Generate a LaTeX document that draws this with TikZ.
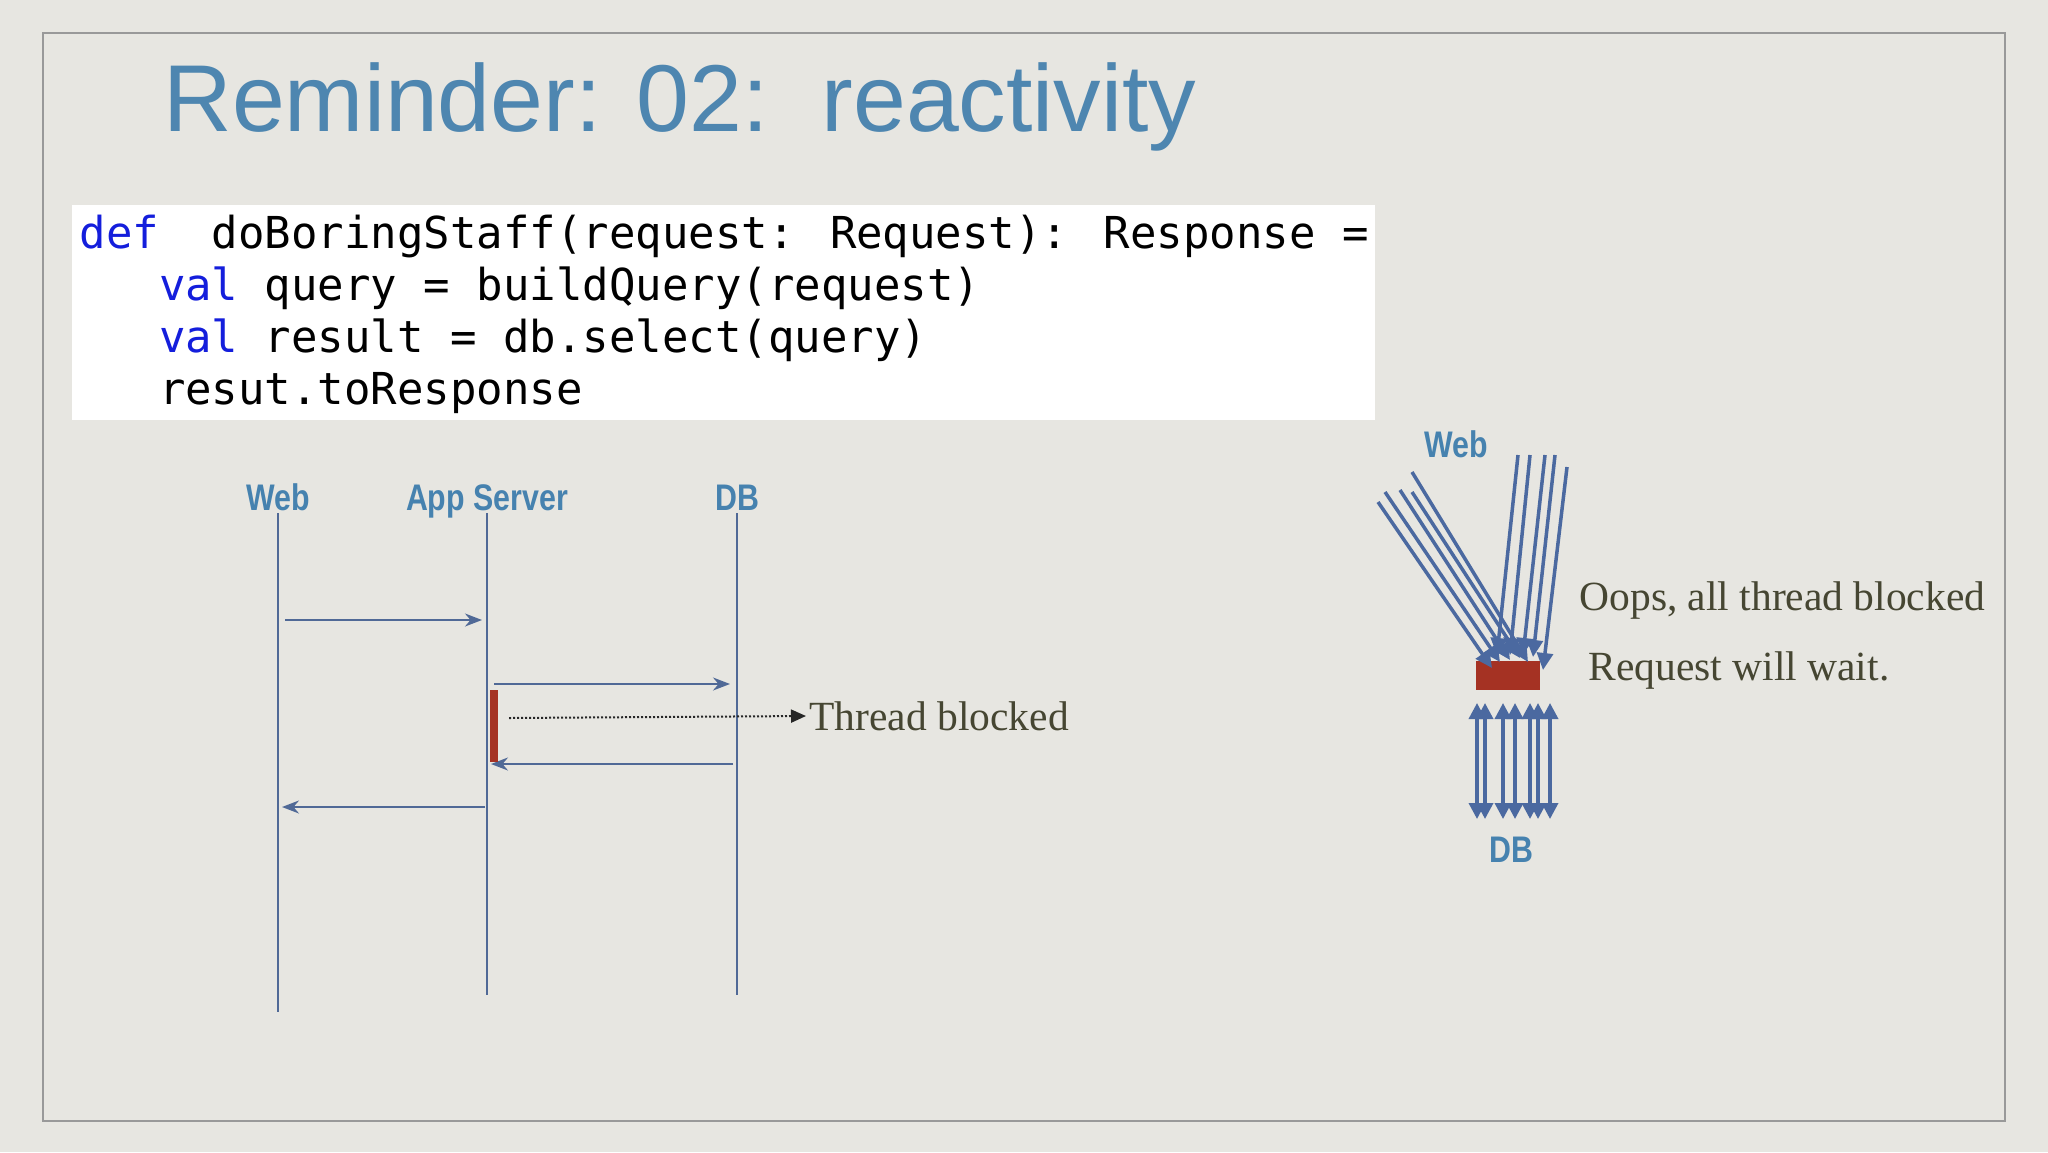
\documentclass[tikz,border=0pt]{standalone}
\usepackage{fontspec}
\setmainfont{Liberation Serif}
\newfontfamily\titlefont{Liberation Sans}
\newfontfamily\codefont{DejaVu Sans Mono}
\usetikzlibrary{arrows.meta}
\definecolor{bg}{RGB}{231,230,225}
\definecolor{ttl}{RGB}{78,134,176}
\definecolor{lbl}{RGB}{70,130,175}
\definecolor{ln}{RGB}{80,105,150}
\definecolor{arr}{RGB}{75,105,160}
\definecolor{blk}{RGB}{165,50,35}
\definecolor{txt}{RGB}{70,70,50}
\definecolor{kw}{RGB}{20,30,220}
\begin{document}
\begin{tikzpicture}[x=1pt,y=-1pt,
  lab/.style={font=\titlefont\bfseries\fontsize{37}{40}\selectfont, text=lbl, xscale=0.82, anchor=base},
  life/.style={draw=ln, line width=1.5pt},
  msg/.style={draw=ln, line width=1.8pt, -{Stealth[length=17pt,width=13pt]}},
  fat/.style={draw=arr, line width=3.5pt, -{Triangle[length=17pt,width=16pt]}},
  note/.style={font=\fontsize{41.5}{45}\selectfont, text=txt, anchor=west},
  code/.style={font=\codefont\fontsize{44}{52}\selectfont, anchor=base west}]
\fill[bg] (0,0) rectangle (2048,1152);
\useasboundingbox (0,0) rectangle (2048,1152);
\draw[gray!80, line width=1.5pt] (43,33) rectangle (2005,1121);
\node[font=\titlefont\fontsize{95}{100}\selectfont, text=ttl, anchor=west] (title) at (160,107) {Reminder: 02:\ \ reactivity};
% code
\fill[white] (72,205) rectangle (1375,420);
\node[code] (c1) at (76,248) {\textcolor{kw}{def}\ \ doBoringStaff(request: Request): Response =};
\node[code] (c2) at (76,300) {\ \ \ \textcolor{kw}{val} query = buildQuery(request)};
\node[code] (c3) at (76,352) {\ \ \ \textcolor{kw}{val} result = db.select(query)};
\node[code] (c4) at (76,404) {\ \ \ resut.toResponse};
% sequence
\node[lab] (web) at (278,510) {Web};
\node[lab] (app) at (487,510) {App Server};
\node[lab] (db) at (737,510) {DB};
\coordinate (w0) at (278,513); \coordinate (w1) at (278,1012);
\coordinate (a0) at (487,513); \coordinate (a1) at (487,995);
\coordinate (d0) at (737,513); \coordinate (d1) at (737,995);
\draw[life] (w0) -- (w1); \draw[life] (a0) -- (a1); \draw[life] (d0) -- (d1);
\coordinate (m1s) at (285,620); \coordinate (m1e) at (482,620);
\coordinate (m2s) at (494,684); \coordinate (m2e) at (730,684);
\coordinate (m3s) at (733,764); \coordinate (m3e) at (491,764);
\coordinate (m4s) at (485,807); \coordinate (m4e) at (282,807);
\draw[msg] (m1s) -- (m1e); \draw[msg] (m2s) -- (m2e);
\draw[msg] (m3s) -- (m3e); \draw[msg] (m4s) -- (m4e);
\fill[blk] (490,690) rectangle (498,762);
\node[note] (tb) at (806,716) {Thread blocked};
\coordinate (ds) at (509,718);
\draw[black!85, line width=2pt, dotted, -{Triangle[length=15pt,width=13pt]}] (ds) -- (tb.west);
% right side
\node[lab] (web2) at (1456,457) {Web};
\node[lab] (db2) at (1511,862) {DB};
\fill[blk] (1476,661) rectangle (1540,690);
\foreach \sx/\sy/\ex/\ey in {1378/502/1492/668, 1385/492/1500/662, 1400/490/1510/660, 1412/492/1520/658, 1412/472/1528/662,
  1518/455/1497/655, 1530/455/1510/655, 1545/455/1523/655, 1555/455/1533/657, 1567/467/1543/670}
  \draw[fat] (\sx,\sy) -- (\ex,\ey);
\foreach \x in {1477,1485,1503,1515,1530,1538,1550}
  \draw[draw=arr, line width=3.5pt, {Triangle[length=16pt,width=16pt]}-{Triangle[length=16pt,width=16pt]}] (\x,703) -- (\x,819);
\node[note] (oops) at (1576,601) {Oops, all thread blocked};
\node[note] (req) at (1585,671) {Request will wait.};
\end{tikzpicture}
\end{document}
